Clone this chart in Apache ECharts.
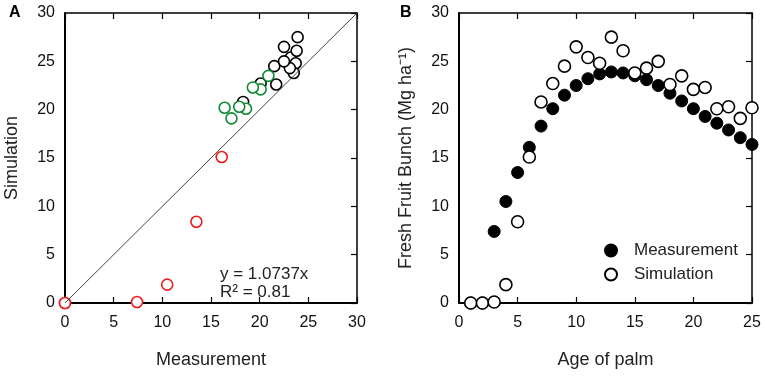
<!DOCTYPE html>
<html>
<head>
<meta charset="utf-8">
<script src="https://cdn.jsdelivr.net/npm/echarts@6/dist/echarts.min.js"></script>
<style>
  html, body { margin: 0; padding: 0; background: #fff; }
  #chart { width: 765px; height: 376px; }
</style>
</head>
<body>
<div id="chart"></div>
<script>
// age of palm (years)
const ages = [1, 2, 3, 4, 5, 6, 7, 8, 9, 10, 11, 12, 13, 14, 15, 16, 17, 18, 19, 20, 21, 22, 23, 24, 25]
// measured fresh fruit bunch (Mg/ha)
const measured = [0, 0, 7.4, 10.5, 13.5, 16.1, 18.3, 20.1, 21.5, 22.5, 23.2, 23.7, 23.9, 23.8, 23.5, 23.1, 22.5, 21.7, 20.9, 20.1, 19.3, 18.6, 17.9, 17.1, 16.4]
// simulated fresh fruit bunch (Mg/ha)
const simulated = [0, 0, 0.1, 1.9, 8.4, 15.1, 20.8, 22.7, 24.5, 26.5, 25.4, 24.8, 27.5, 26.1, 23.8, 24.3, 25.0, 22.6, 23.5, 22.1, 22.3, 20.1, 20.3, 19.1, 20.2]
// age groups used for colours in panel A
const youngMaxAge = 6
const matureMaxAge = 18
const oneToOne = [0, 30]

const fontFam = 'Arial, "Liberation Sans", sans-serif'

// pairs for panel A: [measurement, simulation]
const pairs = (lo, hi) => ages
  .map((a, i) => ({ a, p: [measured[i], simulated[i]] }))
  .filter(d => d.a >= lo && d.a <= hi)
  .map(d => d.p)

const labelStyle = { color: '#111', fontSize: 16, fontFamily: fontFam }
const nameStyle = { color: '#222', fontSize: 18, fontFamily: fontFam }

function mainX(grid, max, name) {
  return {
    type: 'value', gridIndex: grid, min: 0, max: max, interval: 5, position: 'bottom',
    name: name, nameLocation: 'middle', nameGap: 48, nameTextStyle: nameStyle,
    axisLine: { show: true, onZero: false, lineStyle: { color: '#000', width: 2 } },
    axisTick: { show: true, inside: true, length: 6, lineStyle: { color: '#000', width: 1.2 } },
    axisLabel: Object.assign({ margin: 12 }, labelStyle),
    splitLine: { show: false }
  }
}
function topX(grid, max) {
  return {
    type: 'value', gridIndex: grid, min: 0, max: max, interval: 5, position: 'top',
    axisLine: { show: true, onZero: false, lineStyle: { color: '#000', width: 1.5 } },
    axisTick: { show: true, inside: true, length: 6, lineStyle: { color: '#000', width: 1.2 } },
    axisLabel: { show: false }, splitLine: { show: false }
  }
}
function mainY(grid, name) {
  return {
    type: 'value', gridIndex: grid, min: 0, max: 30, interval: 5, position: 'left',
    name: name, nameLocation: 'middle', nameGap: 44, nameTextStyle: nameStyle,
    axisLine: { show: true, onZero: false, lineStyle: { color: '#000', width: 2 } },
    axisTick: { show: false },
    axisLabel: Object.assign({ margin: 10 }, labelStyle),
    splitLine: { show: false }
  }
}
function rightY(grid) {
  return {
    type: 'value', gridIndex: grid, min: 0, max: 30, interval: 5, position: 'right',
    axisLine: { show: true, onZero: false, lineStyle: { color: '#000', width: 1.5 } },
    axisTick: { show: true, inside: true, length: 6, lineStyle: { color: '#000', width: 1.2 } },
    axisLabel: { show: false }, splitLine: { show: false }
  }
}

const openCircle = (color) => ({
  type: 'scatter', symbol: 'circle', symbolSize: 11, clip: false,
  itemStyle: { color: '#fff', borderColor: color, borderWidth: 1.6, opacity: 1 }
})

const option = {
  animation: false,
  backgroundColor: '#fff',
  grid: [
    { left: 65, right: 408, top: 13, bottom: 73 },
    { left: 459, right: 13, top: 13, bottom: 73 }
  ],
  xAxis: [mainX(0, 30, 'Measurement'), topX(0, 30), mainX(1, 25, 'Age of palm'), topX(1, 25)],
  yAxis: [mainY(0, 'Simulation'), rightY(0), mainY(1, 'Fresh Fruit Bunch (Mg ha\u207B\u00B9)'), rightY(1)],
  legend: {
    data: ['Measurement', 'Simulation'],
    orient: 'vertical', left: 599, top: 237,
    itemWidth: 12, itemHeight: 12, itemGap: 7,
    icon: 'circle',
    textStyle: { color: '#222', fontSize: 17, fontFamily: fontFam, padding: [0, 0, 0, 12] }
  },
  graphic: [
    { type: 'text', left: 9, top: 5, style: { text: 'A', fontSize: 16, fontWeight: 'bold', fontFamily: fontFam, fill: '#000' } },
    { type: 'text', left: 400, top: 5, style: { text: 'B', fontSize: 16, fontWeight: 'bold', fontFamily: fontFam, fill: '#000' } },
    { type: 'text', left: 220, top: 265, style: { text: 'y = 1.0737x\nR\u00B2 = 0.81', fontSize: 17, lineHeight: 18, fontFamily: fontFam, fill: '#222' } }
  ],
  series: [
    {
      name: 'oneToOne', type: 'line', xAxisIndex: 0, yAxisIndex: 0,
      data: [[oneToOne[0], oneToOne[0]], [oneToOne[1], oneToOne[1]]],
      symbol: 'none', silent: true, lineStyle: { color: '#444', width: 1 }
    },
    Object.assign(openCircle('#000'), { name: 'mature', xAxisIndex: 0, yAxisIndex: 0, data: pairs(youngMaxAge + 1, matureMaxAge) }),
    Object.assign(openCircle('#0f8a33'), { name: 'old', xAxisIndex: 0, yAxisIndex: 0, data: pairs(matureMaxAge + 1, 99) }),
    Object.assign(openCircle('#ee1c1c'), { name: 'young', xAxisIndex: 0, yAxisIndex: 0, data: pairs(0, youngMaxAge) }),
    {
      name: 'Measurement', type: 'scatter', xAxisIndex: 2, yAxisIndex: 2, clip: false,
      symbol: 'circle', symbolSize: 12,
      itemStyle: { color: '#000', borderColor: '#000', borderWidth: 1, opacity: 1 },
      data: ages.map((a, i) => [a, measured[i]])
    },
    Object.assign(openCircle('#000'), {
      name: 'Simulation', xAxisIndex: 2, yAxisIndex: 2, symbolSize: 12,
      data: ages.map((a, i) => [a, simulated[i]])
    })
  ]
}

const chart = echarts.init(document.getElementById('chart'))
chart.setOption(option)
</script>
</body>
</html>
